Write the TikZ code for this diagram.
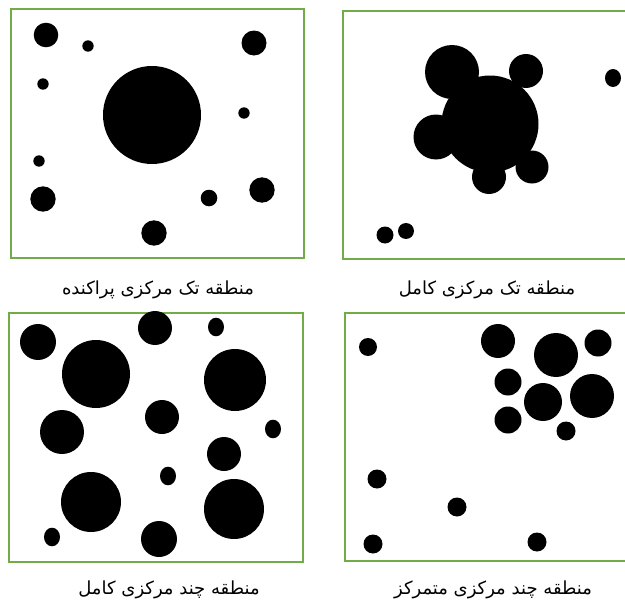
\documentclass[tikz,border=0pt]{standalone}
\usepackage{fontspec}
\newfontfamily\arabicfont[Script=Arabic]{DejaVu Sans}
\TeXXeTstate=1
\definecolor{panelgreen}{RGB}{112,173,71}

\begin{document}
\begin{tikzpicture}[x=1pt,y=-1pt,
    panel/.style={draw=panelgreen, line width=2.3pt},
    blob/.style={fill=black},
    caption/.style={font=\arabicfont\fontsize{18}{21}\selectfont, inner sep=0pt}]
  \useasboundingbox (0,0) rectangle (625,605);

  \draw[panel] (11,9) rectangle (304,258);
  \draw[panel] (343,11) rectangle (640,259);
  \draw[panel] (9,313) rectangle (303,562);
  \draw[panel] (345,313) rectangle (640,561);

  \foreach \x/\y/\r in {46/35/12.3, 88/46/5.7, 254/43/12.5, 43/84/5.7, 152/115/49,
      244/113/5.7, 39/161/5.7, 43/199/12.7, 209/198/8.3, 262/190/12.7, 154/233/12.7}
    \fill[blob] (\x,\y) circle (\r pt);

  \foreach \x/\y/\r in {490/124/48.5, 452/72/27, 526/71/17, 436/137/22.5, 489/177/17,
      532/167/16.5, 385/235/8.5, 406/231/8}
    \fill[blob] (\x,\y) circle (\r pt);
  \fill[blob] (613,78) ellipse [x radius=8pt, y radius=9pt];

  \foreach \x/\y/\r in {38/342/18, 96/374/34, 155/328/17, 235/380/31, 62/432/22,
      162/417/17, 224/454/17, 91/502/30, 234/509/30, 159/539/18}
    \fill[blob] (\x,\y) circle (\r pt);
  \foreach \x/\y in {216/327, 273/429, 168/476, 52/537}
    \fill[blob] (\x,\y) ellipse [x radius=8pt, y radius=9.3pt];

  \foreach \x/\y/\r in {368/347/9, 498/341/17, 556/355/22, 598/343/13.5, 508/382/13.5,
      543/402/19, 592/396/22, 508/420/13.5, 566/431/9.5, 377/479/9.5, 457/507/9.5,
      373/544/9.5, 537/542/9.5}
    \fill[blob] (\x,\y) circle (\r pt);

  \node[caption] (capA) at (158,290) {\beginR منطقه تک مرکزی پراکنده\endR};
  \node[caption] (capB) at (487,290) {\beginR منطقه تک مرکزی کامل\endR};
  \node[caption] (capC) at (169,590) {\beginR منطقه چند مرکزی کامل\endR};
  \node[caption] (capD) at (493,590) {\beginR منطقه چند مرکزی متمرکز\endR};
\end{tikzpicture}
\end{document}
